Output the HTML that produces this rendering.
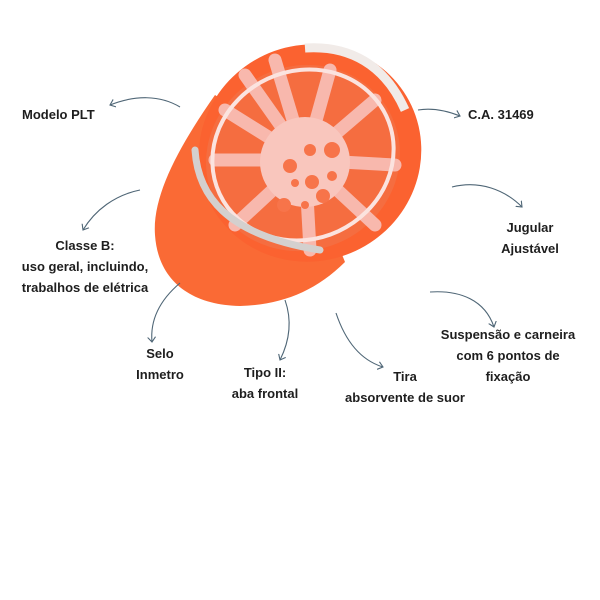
<!DOCTYPE html>
<html><head><meta charset="utf-8"><style>
html,body{margin:0;padding:0;background:#fff}
body{width:600px;height:600px;position:relative;overflow:hidden}
svg{position:absolute;left:0;top:0}
.t{position:absolute;font-family:"Liberation Sans",sans-serif;font-weight:bold;font-size:13px;color:#1e1e1e;text-align:center;line-height:21px;white-space:nowrap}
</style></head><body>
<svg width="600" height="600" viewBox="0 0 600 600">
<defs><marker id="a" markerWidth="10" markerHeight="10" refX="5" refY="5" orient="auto" markerUnits="userSpaceOnUse"><path d="M0,1 L5,5 L0,9" fill="none" stroke="#4f6676" stroke-width="1.1"/></marker></defs>
<!-- brim -->
<path d="M215,95 C180,145 152,195 155,235 C158,280 190,305 240,306 C280,305 315,292 345,262 L300,150 Z" fill="#fa6a35"/>
<!-- dome -->
<ellipse cx="310" cy="153" rx="112" ry="108" transform="rotate(-25 310 153)" fill="#fb6230"/>
<ellipse cx="303" cy="158" rx="98" ry="92" transform="rotate(-25 303 158)" fill="#f56d40"/>
<!-- suspension spokes -->
<g fill="none" stroke="#f8b8ad" stroke-linecap="round" stroke-width="13">
<path d="M305,160 L245,75 M305,160 L275,60 M305,160 L330,70 M305,160 L375,100 M305,160 L395,165 M305,160 L375,225 M305,160 L310,250 M305,160 L235,225 M305,160 L215,160 M305,160 L225,110"/>
</g>
<ellipse cx="303" cy="155" rx="92" ry="84" transform="rotate(-25 303 155)" fill="none" stroke="#fbe3df" stroke-width="4"/>
<circle cx="305" cy="162" r="45" fill="#f9c6bd"/>
<g fill="#f7744a">
<circle cx="310" cy="150" r="6"/><circle cx="332" cy="150" r="8"/><circle cx="290" cy="166" r="7"/><circle cx="312" cy="182" r="7"/><circle cx="332" cy="176" r="5"/><circle cx="284" cy="205" r="7"/><circle cx="305" cy="205" r="4"/><circle cx="323" cy="196" r="7"/><circle cx="295" cy="183" r="4"/>
</g>
<path d="M195,150 C198,195 225,235 320,250" fill="none" stroke="#d4d0ce" stroke-width="7" stroke-linecap="round"/>
<path d="M305,48 C350,45 385,65 405,110" fill="none" stroke="#f1ebe8" stroke-width="9"/>
<!-- arrows -->
<g fill="none" stroke="#4f6676" stroke-width="1.1" marker-end="url(#a)">
<path d="M180,107 C160,95 135,95 110,105"/>
<path d="M418,110 C430,108 445,110 460,116"/>
<path d="M452,187 C480,180 505,190 522,207"/>
<path d="M140,190 C115,195 95,210 83,230"/>
<path d="M180,283 C160,300 150,320 152,342"/>
<path d="M285,300 C292,320 290,340 280,360"/>
<path d="M336,313 C345,340 360,360 383,367"/>
<path d="M430,292 C460,290 485,300 494,327"/>
</g>
</svg>
<div class="t" style="left:22px;top:104px">Modelo PLT</div>
<div class="t" style="left:468px;top:104px">C.A. 31469</div>
<div class="t" style="left:490px;top:217px;width:80px">Jugular<br>Ajustável</div>
<div class="t" style="left:5px;top:235px;width:160px">Classe B:<br>uso geral, incluindo,<br>trabalhos de elétrica</div>
<div class="t" style="left:130px;top:343px;width:60px">Selo<br>Inmetro</div>
<div class="t" style="left:225px;top:362px;width:80px">Tipo II:<br>aba frontal</div>
<div class="t" style="left:335px;top:366px;width:140px">Tira<br>absorvente de suor</div>
<div class="t" style="left:430px;top:324px;width:156px">Suspensão e carneira<br>com 6 pontos de<br>fixação</div>
</body></html>
